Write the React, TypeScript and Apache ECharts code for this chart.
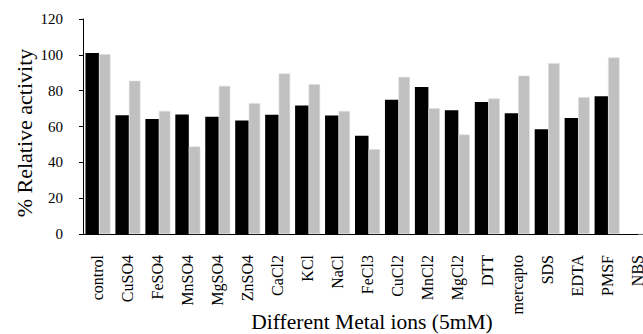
import React, { useEffect, useRef } from "react";
import * as echarts from "echarts";

const categories = [
  "control", "CuSO4", "FeSO4", "MnSO4", "MgSO4", "ZnSO4", "CaCl2", "KCl", "NaCl",
  "FeCl3", "CuCl2", "MnCl2", "MgCl2", "DTT", "mercapto", "SDS", "EDTA", "PMSF", "NBS",
];
const seriesA = [101, 66.3, 64.2, 66.7, 65.5, 63.3, 66.6, 71.7, 66.1, 54.9, 74.9, 82, 69.1, 73.7, 67.4, 58.5, 64.8, 76.9, 0];
const seriesB = [100.4, 85.5, 68.7, 48.8, 82.7, 73, 89.6, 83.6, 68.7, 47.3, 87.7, 70.2, 55.5, 75.6, 88.4, 95.4, 76.4, 98.5, 0];
const yTicks = { min: 0, max: 120, interval: 20 };

const FONT = "'Liberation Serif', 'Times New Roman', serif";

export default function App() {
  const ref = useRef<HTMLDivElement>(null);
  useEffect(() => {
    if (!ref.current) return;
    const chart = echarts.init(ref.current, undefined, { renderer: "svg" });
    chart.setOption({
      animation: false,
      backgroundColor: "#ffffff",
      grid: { left: 83, top: 19, bottom: 100, right: 8 },
      xAxis: {
        type: "category",
        data: categories,
        axisLine: { lineStyle: { color: "#000", width: 1 } },
        axisTick: { length: 4, lineStyle: { color: "#000" } },
        axisLabel: {
          rotate: 90,
          margin: 21,
          color: "#000",
          fontFamily: FONT,
          fontSize: 16,
          interval: 0,
        },
      },
      yAxis: {
        type: "value",
        min: yTicks.min,
        max: yTicks.max,
        interval: yTicks.interval,
        splitLine: { show: false },
        axisLine: { show: true, lineStyle: { color: "#000", width: 1 } },
        axisTick: { show: true, length: 4, lineStyle: { color: "#000" } },
        axisLabel: { color: "#000", fontFamily: FONT, fontSize: 15, margin: 20 },
      },
      graphic: [
        {
          type: "text",
          x: 24,
          y: 133,
          rotation: Math.PI / 2,
          style: {
            text: "% Relative activity",
            fontFamily: FONT,
            fontSize: 22,
            fill: "#000",
            align: "center",
            verticalAlign: "middle",
          },
        },
        {
          type: "text",
          x: 372,
          y: 322,
          style: {
            text: "Different Metal ions (5mM)",
            fontFamily: FONT,
            fontSize: 21.5,
            fill: "#000",
            align: "center",
            verticalAlign: "middle",
          },
        },
      ],
      series: [
        {
          type: "bar",
          data: seriesA,
          barWidth: 13.5,
          barGap: "0%",
          itemStyle: { color: "#000000" },
        },
        {
          type: "bar",
          data: seriesB,
          barWidth: 11.5,
          barGap: "0%",
          itemStyle: { color: "#c0c0c0", borderColor: "#dedede", borderWidth: 0.6 },
        },
      ],
    });
    return () => chart.dispose();
  }, []);
  return (
    <div style={{ position: "fixed", left: 0, top: 0, width: 643, height: 334, overflow: "hidden", background: "#fff" }}>
      <div ref={ref} style={{ width: 660, height: 334 }} />
    </div>
  );
}
